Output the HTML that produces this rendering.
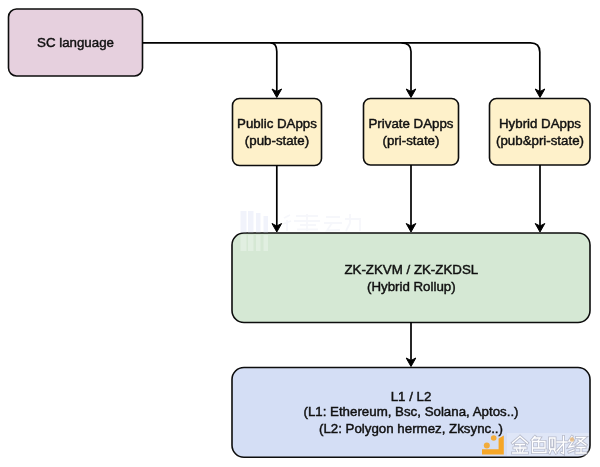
<!DOCTYPE html>
<html><head><meta charset="utf-8"><style>
html,body{margin:0;padding:0;background:#fff;width:600px;height:467px;overflow:hidden}
svg{display:block;will-change:transform}
text{font-family:"Liberation Sans",sans-serif;font-size:13.3px;fill:#111;stroke:#111;stroke-width:0.45px;text-anchor:middle}
</style></head><body>
<svg width="600" height="467" viewBox="0 0 600 467">
<defs>
<path id="ah" d="M0 0 L-4.8 -8.5 L0 -6 L4.8 -8.5 Z"/>
<path id="jsp" d="M520 436.5 L512.5 443 M520 436.5 L527.5 443 M515.5 444.5 H524.5 M514 448 H526 M520 444.5 V453 M516.5 449.5 L517.5 451.5 M523.5 449.5 L522.5 451.5 M512.5 453 H527.5
M535 436.5 L532 440 M534 438 H540 L538 441 M532.5 441.5 H545 V448 H532.5 M538.7 441.5 V448 M532.5 441.5 V452.5 H546 V450
M549.5 438 H555 V449 H549.5 Z M552.2 440 V446 M551 449.5 L549.5 453 M554 449.5 L556 453 M557 442 H567 M563.5 436.5 V453.5 L561.5 452.5 M563 444 L557 451
M572 436.5 L569 441 L573 441 L569 447 L574 446 M569 452 L574 450 M576.5 437.5 H585 L577 444 M579 440 L586 445 M577 447.5 H585 M581 447.5 V453 M576 453 H586" fill="none" stroke-linecap="square"/>
</defs>
<!-- boxes -->
<g stroke="#0d0d0d" stroke-width="1.6">
<rect x="8.5" y="9" width="134" height="67" rx="8" fill="#e6d0de"/>
<rect x="232.5" y="98.5" width="89" height="67" rx="7" fill="#fef1ca"/>
<rect x="363.5" y="98.5" width="95" height="66.5" rx="7" fill="#fef1ca"/>
<rect x="489.5" y="98.5" width="100.5" height="66.5" rx="7" fill="#fef1ca"/>
<rect x="232" y="233" width="358" height="89.5" rx="12" fill="#d5e8d4"/>
<rect x="232" y="367.5" width="358" height="89.8" rx="12" fill="#d4def5"/>
</g>
<!-- connectors -->
<g stroke="#000" stroke-width="1.7" fill="none">
<path d="M142.5 42.8 H530.5 Q539.8 42.8 539.8 52 V92"/>
<path d="M270.5 42.8 Q276.8 42.8 276.8 51.5 V92"/>
<path d="M401.5 42.8 Q411 42.8 411 51.5 V92"/>
<path d="M276.8 165.5 V226"/>
<path d="M411 165 V226"/>
<path d="M540 165 V226"/>
<path d="M411 322 V361"/>
</g>
<g fill="#000" stroke="#000" stroke-width="1" stroke-linejoin="miter">
<use href="#ah" transform="translate(276.8 97.5)"/>
<use href="#ah" transform="translate(411 97.5)"/>
<use href="#ah" transform="translate(540 97.5)"/>
<use href="#ah" transform="translate(276.8 232)"/>
<use href="#ah" transform="translate(411 232)"/>
<use href="#ah" transform="translate(540 232)"/>
<use href="#ah" transform="translate(411 366.5)"/>
</g>
<!-- watermark lvdong -->
<g fill="#dde0f4" opacity="0.4">
<path d="M240.5 211 h6 v21.5 h-6z M248 211 h5.5 v21.5 h-5.5z M256 213 h4.5 v19.5 h-4.5z M263.5 216 h4.5 v16.5 h-4.5z"/>
</g>
<g fill="#ffffff" opacity="0.3">
<path d="M240.5 235 h6 v16 h-6z M248 235 h5.5 v16 h-5.5z M256 235 h4.5 v16 h-4.5z M263.5 235 h4.5 v16 h-4.5z"/>
</g>
<g fill="none" stroke="#e2e4f2" stroke-width="1.8" opacity="0.3">
<path d="M284 218 L290 215 M283 224 L291 221 M287 220 V231 M296 216 H318 M294 221 H320 M300 225 H316 M307 214 V231 M297 229.5 H318 M326 217 H340 M324 223 H342 M332 223 L327 230.5 L340 230 M350 214 V223 L346 231 M345 219 H360 V231"/>
</g>
<!-- watermark jinse -->
<g>
<rect x="507" y="433" width="82" height="23" fill="#fff" opacity="0.25"/>
<path d="M498.6 438.5 L503.8 435.5 V454.5 H482 V449.3 H498.6 Z" fill="#f5a627"/>
<circle cx="493.7" cy="438" r="2.8" fill="#f5a627" opacity="0.9"/>
<circle cx="486.8" cy="445.5" r="3" fill="#f5a627" opacity="0.9"/>
</g>
<g fill="none">
<use href="#jsp" stroke="#a0a2b0" stroke-width="3" opacity="0.6"/>
<use href="#jsp" stroke="#ffffff" stroke-width="1.3"/>
<circle cx="572" cy="439.5" r="2.2" fill="#e8b878" opacity="0.8"/>
</g>
<!-- text -->
<text x="75.5" y="46.6">SC language</text>
<text x="277" y="128.4">Public DApps</text>
<text x="277" y="145.3">(pub-state)</text>
<text x="411" y="128.4">Private DApps</text>
<text x="411" y="145.3">(pri-state)</text>
<text x="540" y="128.4">Hybrid DApps</text>
<text x="540" y="145.3">(pub&amp;pri-state)</text>
<text x="411.3" y="273.8">ZK-ZKVM / ZK-ZKDSL</text>
<text x="411.3" y="290.8">(Hybrid Rollup)</text>
<text x="411" y="400.9">L1 / L2</text>
<text x="411" y="416.3">(L1: Ethereum, Bsc, Solana, Aptos..)</text>
<text x="411" y="432.6">(L2: Polygon hermez, Zksync..)</text>
</svg>
</body></html>
